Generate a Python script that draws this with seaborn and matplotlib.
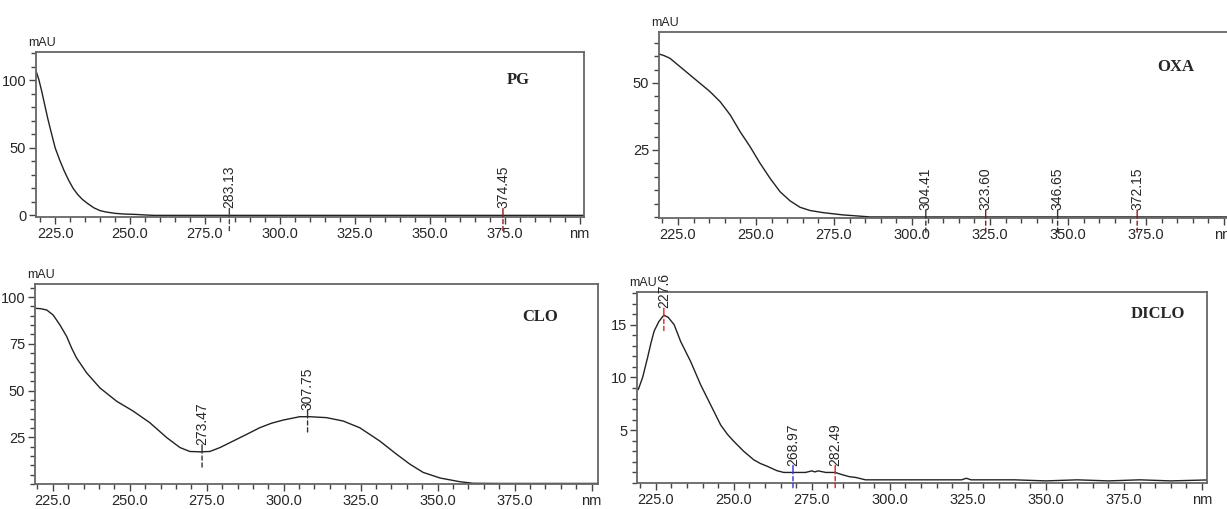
import numpy as np
import pandas as pd
import seaborn as sns
import matplotlib.pyplot as plt
from matplotlib.ticker import MultipleLocator

# PG spectrum
pg_nm = [218.6, 219.5, 220.5, 221.5, 222.5, 223.5, 225, 226.5, 228, 229.5, 231, 232.5, 234, 236, 238,
         240, 242, 245, 248, 252, 255, 258, 300, 350, 402]
pg_mau = [107, 101, 92, 82, 72, 63, 50, 41, 33, 26, 20, 15.5, 12, 8.5, 5.5,
          3.5, 2.5, 1.5, 1.0, 0.7, 0.3, 0, 0, 0, 0]
pg_peaks = ["283.13", "374.45"]
pg_colors = ["#444444", "#8b1a1a"]

# OXA spectrum
oxa_nm = [218.9, 220.5, 222.4, 225.6, 228.8, 232.0, 235.2, 238.5, 241.7, 244.9, 248.1, 251.3, 254.5,
          257.7, 260.9, 264.1, 267.3, 271.5, 277.9, 282, 286.5, 300, 350, 403]
oxa_mau = [60.8, 60.2, 59.2, 56.1, 53.0, 49.9, 46.8, 43.0, 38.1, 31.8, 26.2, 20.0, 14.4,
           9.4, 6.0, 3.6, 2.4, 1.6, 0.75, 0.4, 0, 0, 0, 0]
oxa_peaks = ["304.41", "323.60", "346.65", "372.15"]
oxa_colors = ["#333333", "#8b1a1a", "#333333", "#8b1a1a"]

# CLO spectrum
clo_nm = [219.2, 221, 223.0, 225.1, 227.3, 229.5, 231.1, 232.7, 236.0, 240.3, 245.7, 251.1, 256.5,
          262.0, 266.3, 269.5, 273, 276.0, 279.3, 283.6, 288, 292.2, 296, 299.8, 305.2, 308.5, 313.9,
          319.3, 324.7, 331.2, 336.6, 341.0, 345.3, 350.8, 357.3, 361.5, 370, 403]
clo_mau = [94, 93.8, 93.1, 90.4, 85.1, 78.9, 72.7, 67.4, 59.4, 51.4, 44.3, 39.0, 32.8,
           24.8, 19.5, 17.4, 17.2, 17.4, 19.5, 23.0, 26.6, 30.1, 32.5, 34.2, 36.0, 36.0, 35.5,
           33.7, 30.1, 23.0, 16.0, 10.6, 6.2, 3.2, 1.2, 0.4, 0.3, 0.3]
clo_peaks = ["273.47", "307.75"]
clo_colors = ["#333333", "#333333"]

# DICLO spectrum
diclo_nm = [219.4, 220.8, 222.4, 223.5, 224.5, 226, 227.6, 229, 230.9, 233, 236.2, 239.4, 242.6, 245.8,
            248, 250, 253.2, 256.4, 258.5, 260.6, 263.8, 266, 270, 273, 275, 276, 277, 279.5, 282.5,
            284.6, 287, 289, 292.2, 300, 310, 323, 324.5, 326, 340, 350, 360, 370, 380, 390, 403]
diclo_mau = [8.85, 10.0, 11.9, 13.3, 14.4, 15.3, 15.9, 15.7, 15.0, 13.4, 11.5, 9.3, 7.4, 5.5,
             4.6, 3.95, 3.0, 2.2, 1.85, 1.6, 1.17, 1.0, 1.0, 1.0, 1.15, 1.05, 1.15, 1.0, 1.0,
             0.8, 0.6, 0.53, 0.3, 0.3, 0.3, 0.3, 0.45, 0.3, 0.3, 0.2, 0.3, 0.2, 0.3, 0.2, 0.3]
diclo_peaks = ["227.6", "268.97", "282.49"]
diclo_colors = ["#e02020", "#3030e0", "#e02020"]

x_ticks = [225, 250, 275, 300, 325, 350, 375, 400]
x_labels = ["225.0", "250.0", "275.0", "300.0", "325.0", "350.0", "375.0", "nm"]

sns.set_style("ticks")
plt.rcParams['font.family'] = ['Liberation Sans', 'DejaVu Sans']

W, H = 1227, 509
fig = plt.figure(figsize=(W / 100, H / 100), dpi=100)


def box(l, t, r, b):
    return [l / W, 1 - b / H, (r - l) / W, (b - t) / H]


panels = [
    ("PG", pg_nm, pg_mau, pg_peaks, pg_colors, box(36, 52, 584, 217), (218.6, 401.5), (-1.2, 121),
     [0, 50, 100], 10, (0.88, 0.83)),
    ("OXA", oxa_nm, oxa_mau, oxa_peaks, oxa_colors, box(659, 32, 1230, 218), (218.9, 401.9), (-0.4, 69),
     [25, 50], 5, (0.905, 0.81)),
    ("CLO", clo_nm, clo_mau, clo_peaks, clo_colors, box(35, 284, 598, 484), (219.2, 402.1), (0, 107),
     [25, 50, 75, 100], 5, (0.897, 0.835)),
    ("DICLO", diclo_nm, diclo_mau, diclo_peaks, diclo_colors, box(637, 292, 1207, 483), (219.0, 401.6),
     (0, 18.1), [5, 10, 15], 1, (0.914, 0.885)),
]

for name, nm, mau, peaks, colors, rect, xlim, ylim, yt, ymin, tpos in panels:
    ax = fig.add_axes(rect)
    df = pd.DataFrame({"nm": nm, "mAU": mau})
    sns.lineplot(data=df, x="nm", y="mAU", ax=ax, color="#222222", linewidth=1.0)
    ax.set_xlim(*xlim)
    ax.set_ylim(*ylim)
    ax.set_xlabel("")
    ax.set_ylabel("")
    ax.set_xticks(x_ticks)
    ax.set_xticklabels(x_labels)
    ax.xaxis.set_minor_locator(MultipleLocator(5))
    ax.set_yticks(yt)
    ax.set_yticklabels([str(v) for v in yt])
    ax.yaxis.set_minor_locator(MultipleLocator(ymin))
    ax.tick_params(which="major", length=5, width=1, color="#444444", labelsize=10.5, pad=2)
    ax.tick_params(which="minor", length=3.5, width=1, color="#444444")
    for sp in ax.spines.values():
        sp.set_visible(True)
        sp.set_color("#666666")
        sp.set_linewidth(1.3)
    ax.annotate("mAU", xy=(0, 1), xycoords="axes fraction", xytext=(-5.5, 2), textcoords="offset points",
                ha="left", va="bottom", fontsize=9)
    ax.text(tpos[0], tpos[1], name, transform=ax.transAxes, ha="center", va="center",
            fontsize=12, fontweight="bold", family="Liberation Serif")
    for lab, c in zip(peaks, colors):
        px = float(lab)
        py = float(np.interp(px, nm, mau))
        ax.annotate("", xy=(px, py), xytext=(0, 5), textcoords="offset points", annotation_clip=False,
                    arrowprops=dict(arrowstyle="-", color=c, lw=1, shrinkA=0, shrinkB=0))
        ax.annotate("", xy=(px, py), xytext=(0, -11), textcoords="offset points", annotation_clip=False,
                    arrowprops=dict(arrowstyle="-", color=c, lw=1, ls=(0, (3, 2)), shrinkA=0, shrinkB=0))
        ax.annotate(lab, xy=(px, py), xytext=(0, 5), textcoords="offset points", rotation=90,
                    ha="center", va="bottom", fontsize=10, family="Liberation Sans",
                    annotation_clip=False)

fig.savefig("out.png", dpi=100)
